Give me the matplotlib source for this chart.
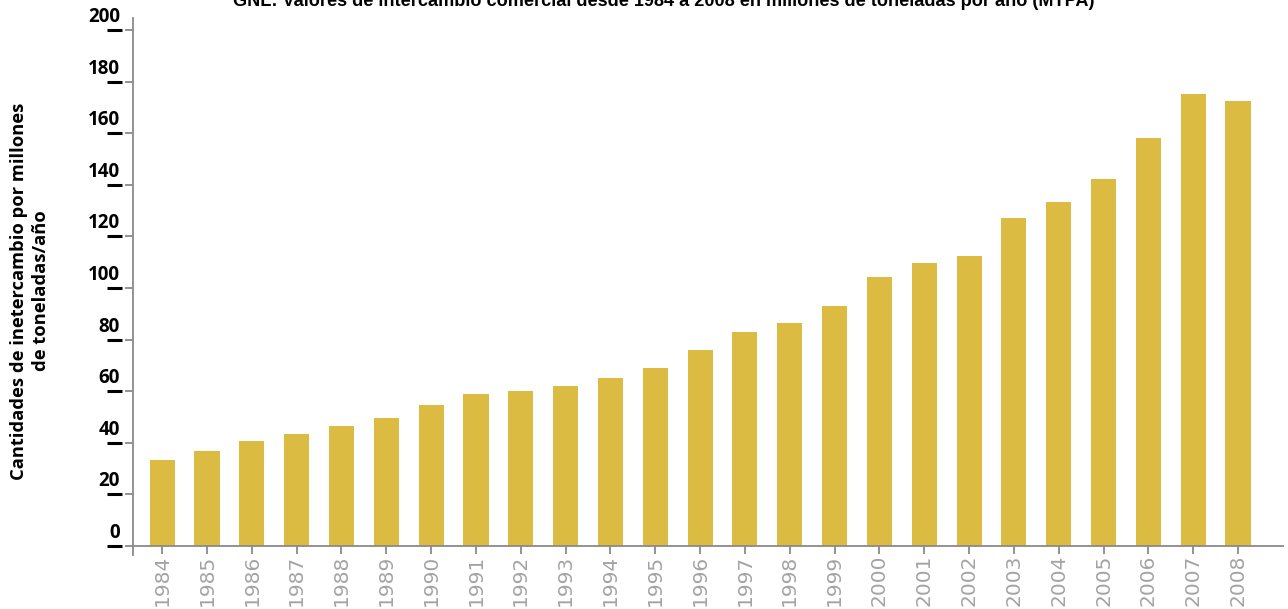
import matplotlib
matplotlib.use("Agg")
import matplotlib.pyplot as plt
import matplotlib.transforms as mtransforms

years = ["1984", "1985", "1986", "1987", "1988", "1989", "1990", "1991", "1992",
         "1993", "1994", "1995", "1996", "1997", "1998", "1999", "2000", "2001",
         "2002", "2003", "2004", "2005", "2006", "2007", "2008"]
values = [33.3, 36.8, 40.7, 43.4, 46.5, 49.6, 54.7, 58.9, 60.1, 62.0, 65.1, 69.0,
          76.0, 82.9, 86.4, 93.0, 104.3, 109.7, 112.4, 127.1, 133.3, 142.2, 158.1,
          175.2, 172.5]
yticks = [0, 20, 40, 60, 80, 100, 120, 140, 160, 180, 200]

title = "GNL: Valores de intercambio comercial desde 1984 a 2008 en millones de toneladas por año (MTPA)"
ylabel = "Cantidades de inetercambio por millones\nde toneladas/año"

plt.rcParams['font.family'] = ['Open Sans', 'DejaVu Sans']

fig = plt.figure(figsize=(12.88, 6.09), dpi=100)
ax = fig.add_axes([0.1033, 0.0887, 0.8927, 0.8813])

x = list(range(len(years)))
ax.bar(x, values, width=0.56, color="#DBBB42", zorder=2)

ax.set_xlim(-0.65, 25.0)
ax.set_ylim(-3.5, 204.6)

for s in ["top", "right"]:
    ax.spines[s].set_visible(False)
ax.spines["bottom"].set_position(("data", 0))
ax.spines["left"].set_color("#8a8a8a")
ax.spines["bottom"].set_color("#8a8a8a")
ax.spines["left"].set_linewidth(1.3)
ax.spines["bottom"].set_linewidth(1.3)

ax.set_xticks(x)
ax.set_xticklabels(years, rotation=90, color="#a3a3a3", fontsize=14.5,
                   family=["DejaVu Sans"])
ax.tick_params(axis="x", length=6, width=1.3, color="#8a8a8a", pad=0.5)

ax.set_yticks(yticks)
ax.set_yticklabels([])
ax.tick_params(axis="y", length=6, width=1.3, color="#8a8a8a")

trans = mtransforms.blended_transform_factory(ax.transAxes, ax.transData)
for v in yticks:
    ax.plot([-0.0227, -0.0096], [v, v], transform=trans, color="black",
            linewidth=2.2, clip_on=False, solid_capstyle="butt")
    t = mtransforms.offset_copy(trans, fig=fig, x=-2, y=3, units="dots")
    ax.text(-0.0096, v, str(v), transform=t, ha="right", va="bottom",
            fontsize=13.5, fontweight="bold", color="black")

fig.text(0.023, 0.522, ylabel, rotation=90, ha="center", va="center",
         fontsize=13.2, fontweight="bold", linespacing=1.3)

fig.text(0.515, 1.0 - 6 / 609, title, ha="center", va="baseline",
         fontsize=13.1, fontweight="bold", family=["Liberation Sans"])

fig.savefig("out.png", dpi=100)
